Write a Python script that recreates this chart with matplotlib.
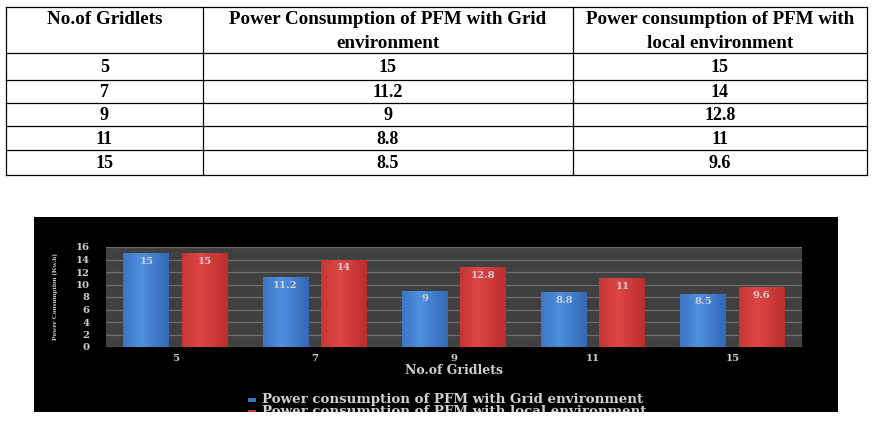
import numpy as np
import matplotlib
matplotlib.use("Agg")
import matplotlib.pyplot as plt
from matplotlib.patches import Rectangle

gridlets = ["5", "7", "9", "11", "15"]
grid_power = [15, 11.2, 9, 8.8, 8.5]
local_power = [15, 14, 12.8, 11, 9.6]
grid_labels = ["15", "11.2", "9", "8.8", "8.5"]
local_labels = ["15", "14", "12.8", "11", "9.6"]
header = [["No.of Gridlets"],
          ["Power Consumption of PFM with Grid", "environment"],
          ["Power consumption of PFM with", "local environment"]]
legend_labels = ["Power consumption of PFM with Grid environment",
                 "Power consumption of PFM with local environment"]

W, H = 873, 424
fig = plt.figure(figsize=(W / 100, H / 100), dpi=100)
fig.patch.set_facecolor("white")


def fx(px):
    return px / W


def fy(py):
    return 1 - py / H


# ---- table on top ----
col_edges = [6, 203, 573, 867]
row_edges = [7, 53, 80, 103, 126, 150, 175]
tfont = dict(family="Liberation Serif", weight="bold", color="black",
             ha="center", va="center")

for x in col_edges:
    fig.add_artist(plt.Line2D([fx(x), fx(x)], [fy(row_edges[0]), fy(row_edges[-1])],
                              color="black", lw=0.9))
for y in row_edges:
    fig.add_artist(plt.Line2D([fx(col_edges[0]), fx(col_edges[-1])], [fy(y), fy(y)],
                              color="black", lw=0.9))

centers = [(col_edges[i] + col_edges[i + 1]) / 2 for i in range(3)]
for c, lines in zip(centers, header):
    for k, txt in enumerate(lines):
        fig.text(fx(c), fy(20 + 23 * k), txt, fontsize=13.7, **tfont)
for r, (g, a, b) in enumerate(zip(gridlets, grid_labels, local_labels)):
    yc = (row_edges[r + 1] + row_edges[r + 2]) / 2 + 1
    for c, txt in zip(centers, [g, a, b]):
        fig.text(fx(c), fy(yc), txt, fontsize=13, **tfont)

# ---- dark chart below ----
fig.add_artist(Rectangle((fx(34), fy(412)), fx(838) - fx(34), fy(217) - fy(412),
                         transform=fig.transFigure, facecolor="black",
                         edgecolor="none", zorder=0))

ax = fig.add_axes([fx(106), fy(347), fx(802) - fx(106), fy(247) - fy(347)])
ax.set_facecolor("#404040")
ax.set_ylim(0, 16)
ax.set_yticks(range(0, 17, 2))
ax.yaxis.grid(True, color="#6e6e6e", lw=0.9)
ax.set_axisbelow(True)
for s in ax.spines.values():
    s.set_visible(False)

x = np.arange(len(gridlets))
bw = 0.33
off = 0.21
ax.set_xlim(-0.5, len(gridlets) - 0.5)


def shaded_bars(xs, vals, base, light):
    bars = ax.bar(xs, vals, bw, color=base, zorder=2)
    grad = np.linspace(0, 1, 64)
    prof = np.clip(1 - np.abs(grad - 0.4) * 1.4, 0, 1)
    b = np.array(matplotlib.colors.to_rgb(base))
    l = np.array(matplotlib.colors.to_rgb(light))
    img = (b[None, :] * (1 - prof[:, None]) + l[None, :] * prof[:, None])[None, :, :]
    for bar in bars:
        x0, y0 = bar.get_x(), bar.get_y()
        im = ax.imshow(img, extent=(x0, x0 + bar.get_width(), y0, y0 + bar.get_height()),
                       aspect="auto", zorder=3, interpolation="bicubic")
        im.set_clip_path(bar)
    return bars


b1 = shaded_bars(x - off, grid_power, "#2f62ad", "#4f8fe0")
b2 = shaded_bars(x + off, local_power, "#b52a2a", "#de4646")

cfont = dict(family="DejaVu Serif", weight="bold", color="#d0d0d0")
for bars, labels in [(b1, grid_labels), (b2, local_labels)]:
    for bar, lab in zip(bars, labels):
        ax.text(bar.get_x() + bar.get_width() / 2, bar.get_height() - 1.3, lab,
                ha="center", va="center", zorder=4, fontsize=7.3, **cfont)

ax.set_xticks(x)
ax.set_xticklabels(gridlets)
ax.tick_params(length=0, colors="#d0d0d0", labelsize=7.3)
for t in ax.get_xticklabels() + ax.get_yticklabels():
    t.set_family("DejaVu Serif")
    t.set_weight("bold")
ax.tick_params(axis="y", pad=12)
ax.tick_params(axis="x", pad=5)
ax.set_xlabel("No.of Gridlets", fontsize=9, **cfont)
ax.xaxis.set_label_coords(0.5, -0.17)
ax.set_ylabel("Power Consumption (Kw.h)", family="Liberation Serif",
              weight="bold", color="#d0d0d0", fontsize=5.2)
ax.yaxis.set_label_coords(-0.069, 0.5)

# legend at the bottom (second line is cut off like the source)
for i, (lab, col) in enumerate(zip(legend_labels, ["#3a74c4", "#c93434"])):
    yy = 399.5 + i * 12
    fig.add_artist(Rectangle((fx(248), fy(yy + 2)), fx(8), fy(yy - 2) - fy(yy + 2),
                             transform=fig.transFigure, facecolor=col,
                             edgecolor="none"))
    fig.text(fx(262), fy(yy), lab, fontsize=9.6, va="center", ha="left", **cfont)

# white strip below the chart hides the cut legend line
fig.add_artist(Rectangle((0, 0), 1, fy(412), transform=fig.transFigure,
                         facecolor="white", edgecolor="none", zorder=10))

fig.savefig("out.png", dpi=100, facecolor="white")
